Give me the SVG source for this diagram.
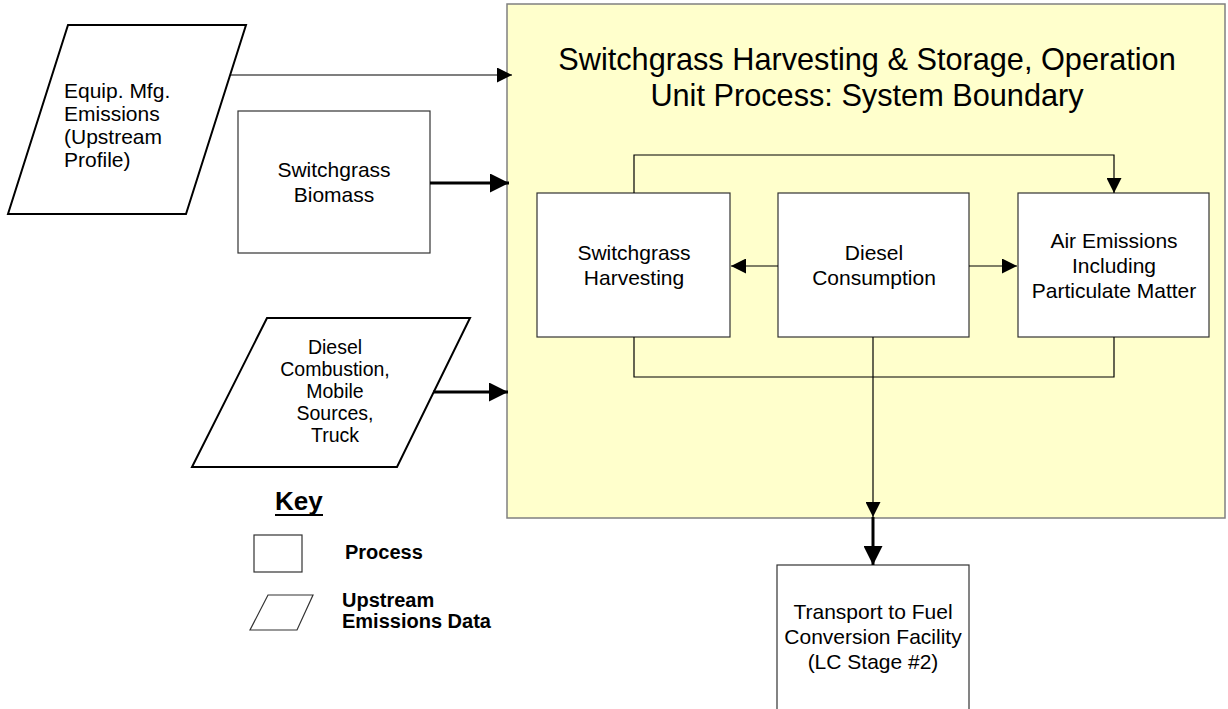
<svg xmlns="http://www.w3.org/2000/svg" width="1228" height="709" viewBox="0 0 1228 709">
<style>
text{font-family:"Liberation Sans",Arial,sans-serif;fill:#000}
.t{font-size:21px;text-anchor:middle}
.ts{font-size:19.5px;text-anchor:middle}
.tl{font-size:21px}
.title{font-size:30.7px;text-anchor:middle}
.kb{font-size:20px;font-weight:bold}
.box{fill:#fff;stroke:#333;stroke-width:1.2}
.para{fill:#fff;stroke:#000;stroke-width:2}
.ln{fill:none;stroke:#000;stroke-width:1.2}
.thick{fill:none;stroke:#000;stroke-width:3}
</style>
<defs>
<marker id="ahs" markerWidth="15" markerHeight="15" refX="15" refY="7.5" orient="auto" markerUnits="userSpaceOnUse" viewBox="0 0 15 15">
<path d="M0,0 L15,7.5 L0,15 Z" fill="#000"/>
</marker>
<marker id="ahb" markerWidth="19" markerHeight="19" refX="19" refY="9.5" orient="auto" markerUnits="userSpaceOnUse" viewBox="0 0 19 19">
<path d="M0,0 L19,9.5 L0,19 Z" fill="#000"/>
</marker>
</defs>
<rect width="1228" height="709" fill="#fff"/>

<g id="boundary">
<rect x="507" y="4" width="718" height="514" fill="#FFFFCC" stroke="#808080" stroke-width="1.5"/>
<text class="title" x="867" y="70">Switchgrass Harvesting &amp; Storage, Operation</text>
<text class="title" x="867" y="106">Unit Process: System Boundary</text>
</g>

<g id="equip">
<polygon class="para" points="68,25 246,25 186,214 8,214"/>
<text class="tl" x="64" y="98">Equip. Mfg.</text>
<text class="tl" x="64" y="121">Emissions</text>
<text class="tl" x="64" y="144">(Upstream</text>
<text class="tl" x="64" y="167">Profile)</text>
</g>

<g id="biomass">
<rect class="box" x="238" y="111" width="192" height="142"/>
<text class="t" x="334" y="177">Switchgrass</text>
<text class="t" x="334" y="202">Biomass</text>
</g>

<g id="diesel-combustion">
<polygon class="para" points="267,318 470,318 397,467 192,467"/>
<text class="ts" x="335" y="354">Diesel</text>
<text class="ts" x="335" y="376">Combustion,</text>
<text class="ts" x="335" y="398">Mobile</text>
<text class="ts" x="335" y="420">Sources,</text>
<text class="ts" x="335" y="442">Truck</text>
</g>

<g id="harvesting">
<rect class="box" x="537" y="193" width="193" height="144"/>
<text class="t" x="634" y="260">Switchgrass</text>
<text class="t" x="634" y="285">Harvesting</text>
</g>

<g id="diesel-consumption">
<rect class="box" x="778" y="193" width="191" height="144"/>
<text class="t" x="874" y="260">Diesel</text>
<text class="t" x="874" y="285">Consumption</text>
</g>

<g id="air-emissions">
<rect class="box" x="1018" y="193" width="191" height="144"/>
<text class="t" x="1114" y="248">Air Emissions</text>
<text class="t" x="1114" y="273">Including</text>
<text class="t" x="1114" y="298">Particulate Matter</text>
</g>

<g id="transport">
<rect class="box" x="777" y="565" width="192" height="150"/>
<text class="t" x="873" y="619">Transport to Fuel</text>
<text class="t" x="873" y="644">Conversion Facility</text>
<text class="t" x="873" y="669">(LC Stage #2)</text>
</g>

<g id="key">
<text x="275" y="510" style="font-size:26px;font-weight:bold">Key</text>
<line x1="275" y1="515" x2="323" y2="515" stroke="#000" stroke-width="2.2"/>
<rect class="box" x="254" y="535" width="48" height="37"/>
<text class="kb" x="345" y="559">Process</text>
<polygon points="268,595 313,595 297,630 250,630" fill="#fff" stroke="#333" stroke-width="1.2"/>
<text class="kb" x="342" y="607">Upstream</text>
<text class="kb" x="342" y="628">Emissions Data</text>
</g>

<g id="connectors">
<line class="ln" x1="230" y1="75" x2="512" y2="75" stroke-width="2.2" marker-end="url(#ahs)"/>
<line class="thick" x1="430" y1="183" x2="509" y2="183" marker-end="url(#ahb)"/>
<line class="thick" x1="433" y1="392" x2="508" y2="392" marker-end="url(#ahb)"/>
<line class="ln" x1="778" y1="266" x2="731" y2="266" marker-end="url(#ahs)"/>
<line class="ln" x1="969" y1="266" x2="1017" y2="266" marker-end="url(#ahs)"/>
<polyline class="ln" points="634,193 634,155 1114,155 1114,193" marker-end="url(#ahs)"/>
<polyline class="ln" points="634,337 634,377 1114,377 1114,337"/>
<line class="ln" x1="873" y1="337" x2="873" y2="517" marker-end="url(#ahs)"/>
<line class="thick" x1="873" y1="517" x2="873" y2="565" marker-end="url(#ahb)"/>
</g>
</svg>
